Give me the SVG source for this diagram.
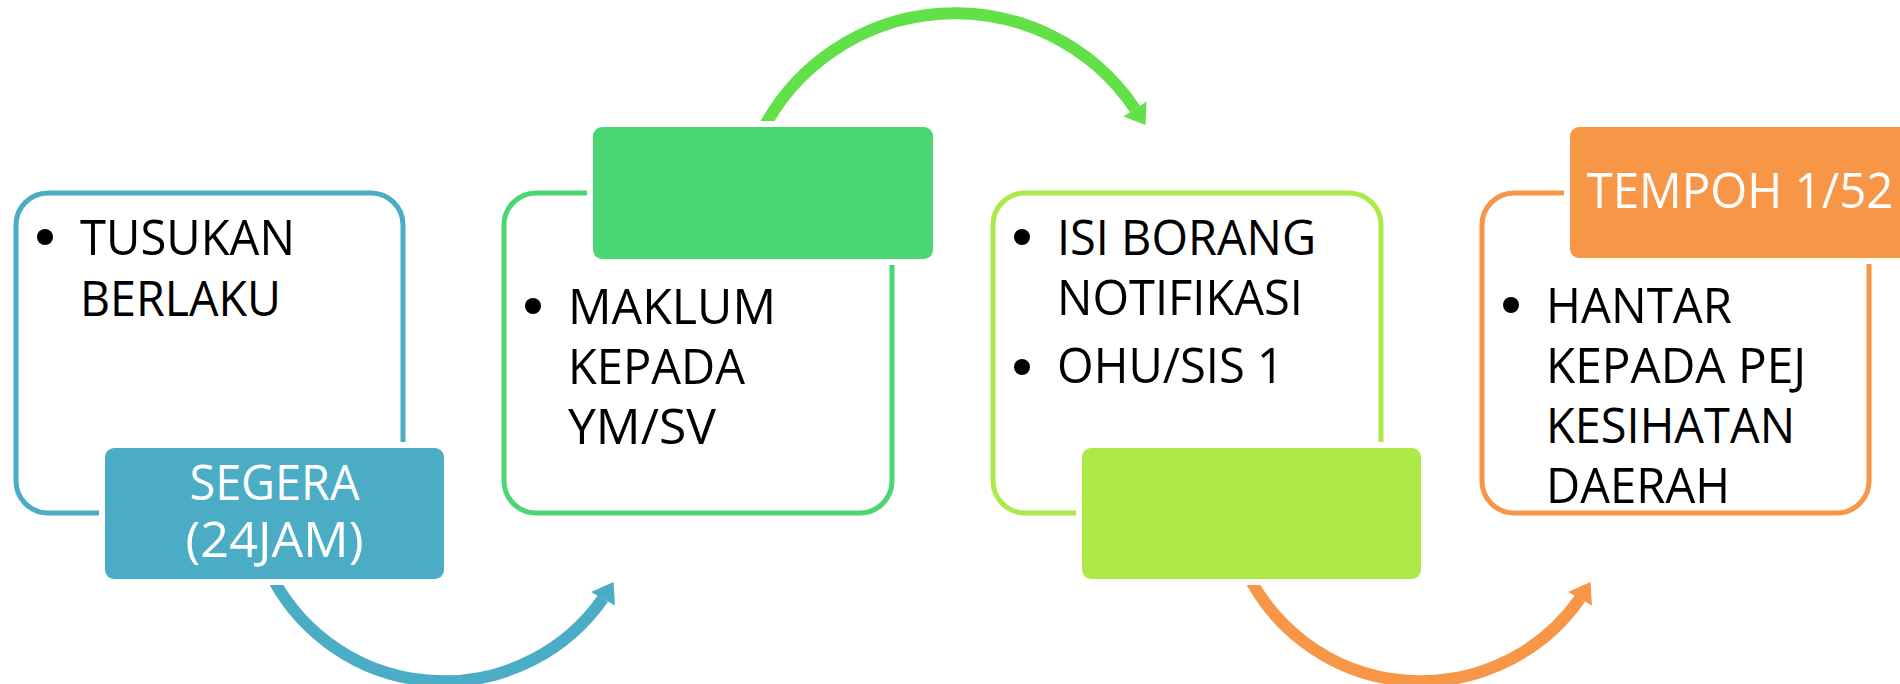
<svg xmlns="http://www.w3.org/2000/svg" width="1900" height="684" viewBox="0 0 1900 684">
  <style>
    .box { fill: #ffffff; stroke-width: 5; }
    .tag { stroke: #ffffff; stroke-width: 12; paint-order: stroke; }
    .body { font-family: "Open Sans", "Liberation Sans", sans-serif; font-size: 49px; fill: #000000; lengthAdjust: spacingAndGlyphs; }
    .head { font-family: "Open Sans", "Liberation Sans", sans-serif; font-size: 49px; fill: #ffffff; text-anchor: middle; }
    .dot { fill: #000000; }
    .arc { fill: none; stroke-width: 12; stroke-linecap: butt; }
    .blue { stroke: #4BACC6; }
    .blueFill { fill: #4BACC6; }
    .green { stroke: #4AD673; }
    .greenFill { fill: #4AD673; }
    .lime { stroke: #ADE948; }
    .limeFill { fill: #ADE948; }
    .orange { stroke: #F79646; }
    .orangeFill { fill: #F79646; }
    .arcGreen { stroke: #62E048; }
  </style>

  <!-- curved arrows between the steps (drawn first so the tabs sit on top) -->
  <g id="connectors">
    <!-- step 1 -> step 2, below -->
    <path class="arc blue" d="M 268.6 570 A 194 194 0 0 0 603 598.5"/>
    <polygon class="blueFill" points="591,592 613.5,582 615,605.5"/>
    <!-- step 2 -> step 3, above -->
    <path class="arc arcGreen" d="M 760 135 A 217 217 0 0 1 1135 109"/>
    <polygon fill="#62E048" points="1123.5,116.5 1146.5,101.5 1145.5,125"/>
    <!-- step 3 -> step 4, below -->
    <g transform="translate(977,0)">
      <path class="arc orange" d="M 268.6 570 A 194 194 0 0 0 603 598.5"/>
      <polygon class="orangeFill" points="591,592 613.5,582 615,605.5"/>
    </g>
  </g>

  <g id="step-1">
    <rect class="box blue" x="16" y="193" width="387" height="320" rx="32"/>
    <rect class="tag blueFill" x="105" y="448" width="339" height="131" rx="9"/>
    <circle class="dot" cx="45" cy="237" r="8"/>
    <text class="body" x="80" y="255" textLength="215" lengthAdjust="spacingAndGlyphs">TUSUKAN</text>
    <text class="body" x="80" y="316" textLength="201" lengthAdjust="spacingAndGlyphs">BERLAKU</text>
    <text class="head" x="274.5" y="500" textLength="170" lengthAdjust="spacingAndGlyphs">SEGERA</text>
    <text class="head" x="274.5" y="557" textLength="178" lengthAdjust="spacingAndGlyphs">(24JAM)</text>
  </g>

  <g id="step-2">
    <rect class="box green" x="504" y="193" width="388" height="320" rx="32"/>
    <rect class="tag greenFill" x="593" y="127" width="340" height="132" rx="9"/>
    <circle class="dot" cx="533" cy="306" r="8"/>
    <text class="body" x="568" y="324" textLength="208" lengthAdjust="spacingAndGlyphs">MAKLUM</text>
    <text class="body" x="568" y="384" textLength="177" lengthAdjust="spacingAndGlyphs">KEPADA</text>
    <text class="body" x="568" y="444" textLength="148" lengthAdjust="spacingAndGlyphs">YM/SV</text>
  </g>

  <g id="step-3">
    <rect class="box lime" x="993" y="193" width="388" height="320" rx="32"/>
    <rect class="tag limeFill" x="1082" y="448" width="339" height="131" rx="9"/>
    <circle class="dot" cx="1022" cy="237" r="8"/>
    <text class="body" x="1057" y="255" textLength="259" lengthAdjust="spacingAndGlyphs">ISI BORANG</text>
    <text class="body" x="1057" y="315" textLength="246" lengthAdjust="spacingAndGlyphs">NOTIFIKASI</text>
    <circle class="dot" cx="1022" cy="367" r="8"/>
    <text class="body" x="1057" y="383" textLength="227" lengthAdjust="spacingAndGlyphs">OHU/SIS 1</text>
  </g>

  <g id="step-4">
    <rect class="box orange" x="1482" y="193" width="387" height="320" rx="32"/>
    <rect class="tag orangeFill" x="1570" y="127" width="340" height="131" rx="9"/>
    <text class="head" x="1740" y="208" textLength="307" lengthAdjust="spacingAndGlyphs">TEMPOH 1/52</text>
    <circle class="dot" cx="1511" cy="305" r="8"/>
    <text class="body" x="1546" y="323" textLength="186" lengthAdjust="spacingAndGlyphs">HANTAR</text>
    <text class="body" x="1546" y="383" textLength="260" lengthAdjust="spacingAndGlyphs">KEPADA PEJ</text>
    <text class="body" x="1546" y="443" textLength="249" lengthAdjust="spacingAndGlyphs">KESIHATAN</text>
    <text class="body" x="1546" y="503" textLength="184" lengthAdjust="spacingAndGlyphs">DAERAH</text>
  </g>
</svg>
